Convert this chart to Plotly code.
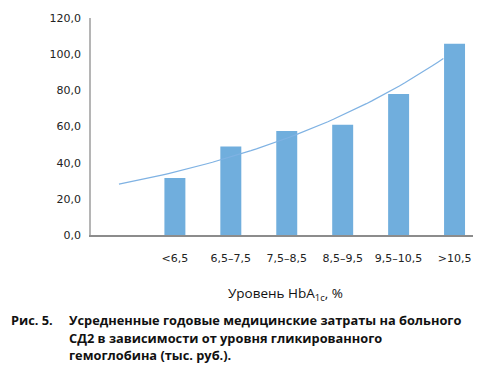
import numpy as np
import plotly.graph_objects as go

# Data
categories = ["", "<6,5", "6,5–7,5", "7,5–8,5", "8,5–9,5", "9,5–10,5", ">10,5"]
costs = [None, 31.5, 49.0, 57.5, 61.0, 78.0, 105.8]
y_ticks = [0, 20, 40, 60, 80, 100, 120]
y_tick_labels = ["0,0", "20,0", "40,0", "60,0", "80,0", "100,0", "120,0"]
trend_start, trend_end = 0.0, 5.8

axis_title = "Уровень HbA<sub>1c</sub>, %"
caption_lines = [
    "Рис. 5.",
    "Усредненные годовые медицинские затраты на больного",
    "СД2 в зависимости от уровня гликированного",
    "гемоглобина (тыс. руб.).",
]

BAR = "#70aedd"
FONT = "Open Sans"
TICKFONT = "DejaVu Sans"

# exponential trendline fitted to the data (category index vs log value)
idx = np.array([i for i, v in enumerate(costs) if v is not None], dtype=float)
vals = np.array([v for v in costs if v is not None], dtype=float)
b, a = np.polyfit(idx, np.log(vals), 1)
tx = np.linspace(trend_start, trend_end, 60)
ty = np.exp(a + b * tx)

fig = go.Figure()
fig.add_trace(go.Bar(
    x=list(range(len(categories))), y=costs, marker_color=BAR,
    width=0.375, marker_line_width=0, showlegend=False,
))
fig.add_trace(go.Scatter(
    x=tx, y=ty, mode="lines", line=dict(color="#7fb2e3", width=1.2),
    showlegend=False, hoverinfo="skip",
))

W, H = 486, 376
L, R, T, B = 91, 13, 18, 141
pw, ph = W - L - R, H - T - B

def px(xp):
    return (xp - L) / pw

def py(yp):
    return (H - B - yp) / ph

fig.update_layout(
    width=W, height=H,
    margin=dict(l=L, r=R, t=T, b=B),
    paper_bgcolor="white", plot_bgcolor="white",
    font=dict(family=FONT, color="#222222"),
    bargap=0.625,
    xaxis=dict(
        range=[-0.5, 6.33], tickmode="array",
        tickvals=list(range(len(categories))), ticktext=categories,
        showline=True, linecolor="#8c8c8c", linewidth=1.5,
        showgrid=False, zeroline=False, ticks="",
        tickfont=dict(family=TICKFONT, size=11, color="#222222"), ticklabelstandoff=12,
    ),
    yaxis=dict(
        range=[0, 120], tickmode="array", tickvals=y_ticks, ticktext=y_tick_labels,
        showline=True, linecolor="#b5b5b5", linewidth=1.5,
        showgrid=False, zeroline=False, ticks="",
        tickfont=dict(family=TICKFONT, size=11, color="#222222"), ticklabelstandoff=6,
    ),
)

annotations = [
    dict(text=axis_title, x=px(285), y=py(294), xref="paper", yref="paper",
         showarrow=False, xanchor="center", yanchor="middle",
         font=dict(size=13.5, color="#111111")),
    dict(text="<b>" + caption_lines[0] + "</b>", x=px(9), y=py(320), xref="paper", yref="paper",
         showarrow=False, xanchor="left", yanchor="middle",
         font=dict(size=12.8, color="#111111")),
]
for i, line in enumerate(caption_lines[1:]):
    annotations.append(dict(
        text="<b>" + line + "</b>", x=px(67), y=py(320 + 17.5 * i),
        xref="paper", yref="paper", showarrow=False, xanchor="left", yanchor="middle",
        font=dict(size=12.8, color="#111111"),
    ))
fig.update_layout(annotations=annotations)

fig.write_html(
    "out.html",
    config={"displayModeBar": False},
    post_script="document.body.style.margin='0';document.body.style.overflow='hidden';",
)
